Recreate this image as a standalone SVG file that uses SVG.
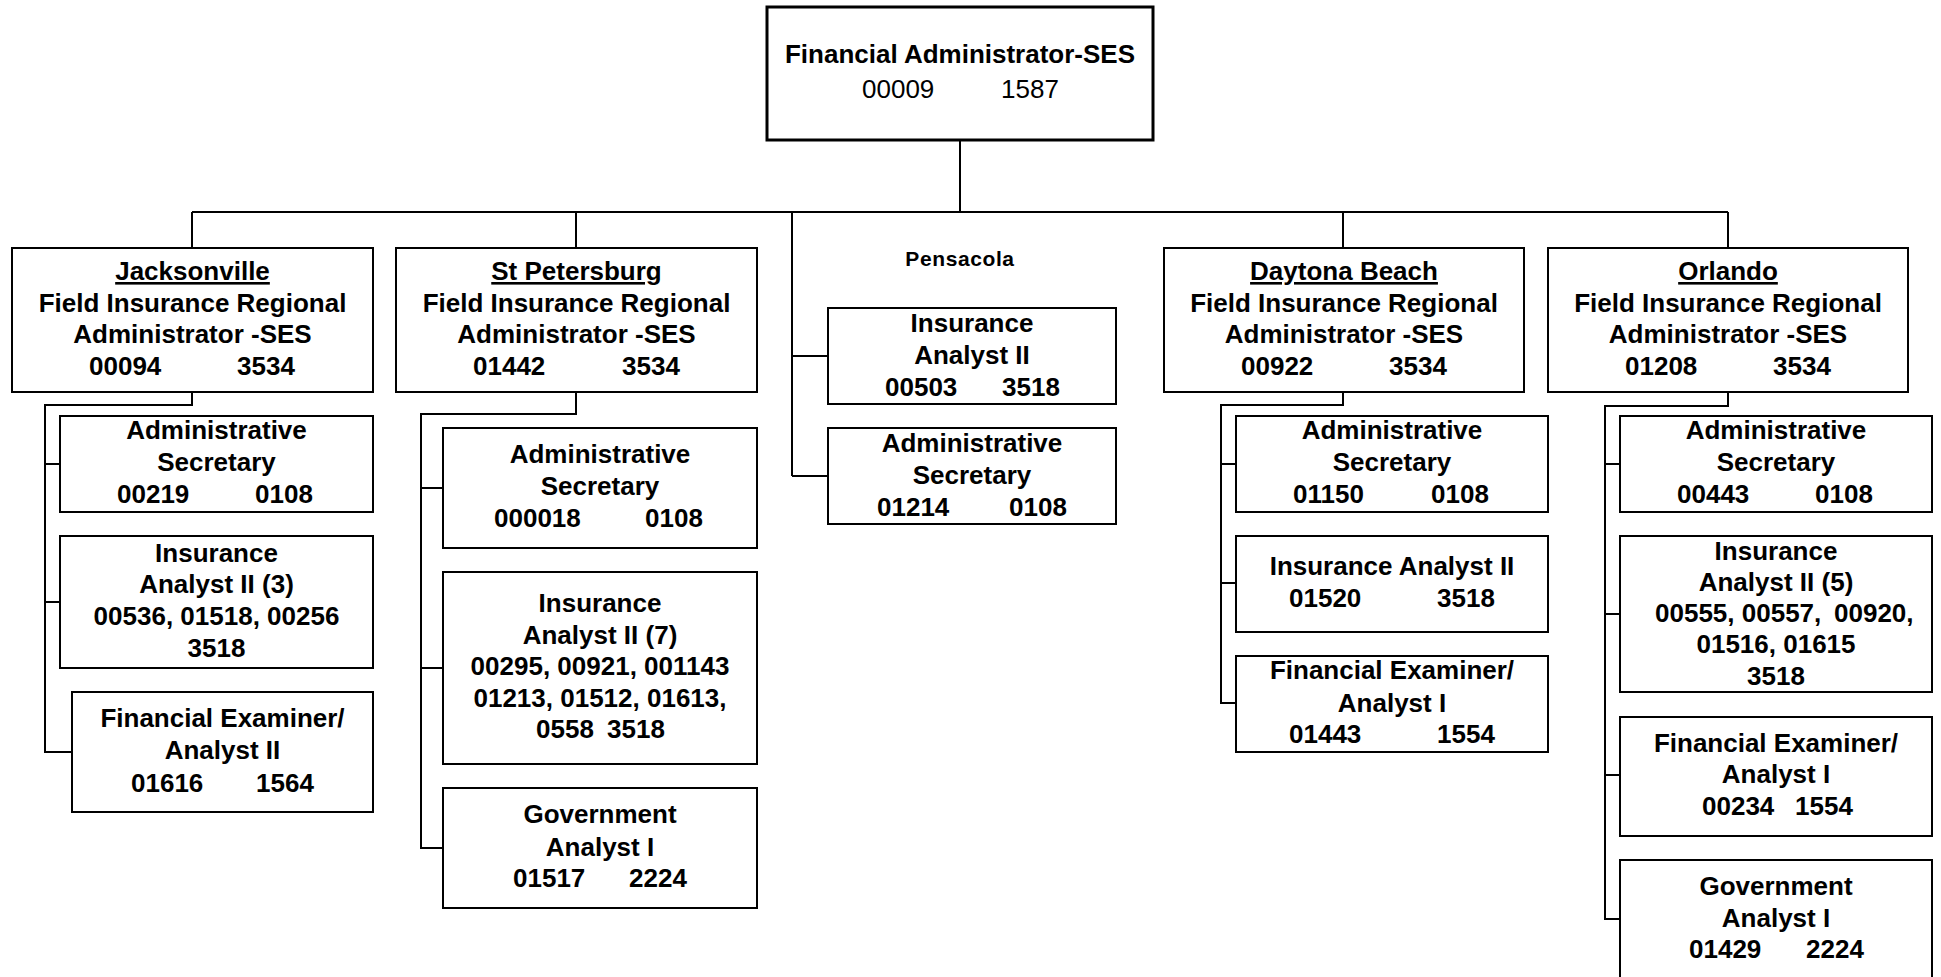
<svg xmlns="http://www.w3.org/2000/svg" width="1941" height="977" viewBox="0 0 1941 977">
  <style>
    .box { fill: #ffffff; stroke: #000000; stroke-width: 2; }
    .top { stroke-width: 3; }
    .wire { fill: none; stroke: #000000; stroke-width: 2; }
    text { font-family: "Liberation Sans", Arial, sans-serif; font-size: 26px; font-weight: bold; fill: #000000; }
    .c { text-anchor: middle; }
    .reg { font-weight: normal; }
    .u { text-decoration: underline; }
    .small { font-size: 21px; letter-spacing: 0.6px; }
  </style>
  <rect width="1941" height="977" fill="#ffffff"/>

  <!-- reporting lines -->
  <g id="connectors">
    <path class="wire" d="M960,140 V212 M192,212 H1728 M192,212 V248 M576,212 V248 M792,212 V476 M1343,212 V248 M1728,212 V248"/>
    <path class="wire" d="M192,392 V405 H45 V752 H72 M45,464 H60 M45,602 H60"/>
    <path class="wire" d="M576,392 V414 H421 V848 H443 M421,488 H443 M421,668 H443"/>
    <path class="wire" d="M792,356 H828 M792,476 H828"/>
    <path class="wire" d="M1343,392 V405 H1221 V703 H1236 M1221,464 H1236 M1221,583 H1236"/>
    <path class="wire" d="M1728,392 V406 H1605 V919 H1620 M1605,464 H1620 M1605,614 H1620 M1605,775 H1620"/>
  </g>

  <g id="financial-administrator">
    <rect class="box top" x="767" y="7" width="386" height="133"/>
    <text class="c" x="960" y="63">Financial Administrator-SES</text>
    <text class="reg" y="98"><tspan x="862">00009</tspan> <tspan x="1001">1587</tspan></text>
  </g>

  <!-- Jacksonville -->
  <g id="jacksonville">
    <rect class="box" x="12" y="248" width="361" height="144"/>
    <text class="c u" x="192.5" y="280">Jacksonville</text>
    <text class="c" x="192.5" y="312">Field Insurance Regional</text>
    <text class="c" x="192.5" y="343">Administrator -SES</text>
    <text y="375"><tspan x="89">00094</tspan> <tspan x="237">3534</tspan></text>
  </g>
  <g id="jacksonville-admin-secretary">
    <rect class="box" x="60" y="416" width="313" height="96"/>
    <text class="c" x="216.5" y="439">Administrative</text>
    <text class="c" x="216.5" y="471">Secretary</text>
    <text y="503"><tspan x="117">00219</tspan> <tspan x="255">0108</tspan></text>
  </g>
  <g id="jacksonville-insurance-analyst">
    <rect class="box" x="60" y="536" width="313" height="132"/>
    <text class="c" x="216.5" y="562">Insurance</text>
    <text class="c" x="216.5" y="593">Analyst II (3)</text>
    <text class="c" x="216.5" y="625">00536, 01518, 00256</text>
    <text class="c" x="216.5" y="657">3518</text>
  </g>
  <g id="jacksonville-financial-examiner">
    <rect class="box" x="72" y="692" width="301" height="120"/>
    <text class="c" x="222.5" y="727">Financial Examiner/</text>
    <text class="c" x="222.5" y="759">Analyst II</text>
    <text y="792"><tspan x="131">01616</tspan> <tspan x="256">1564</tspan></text>
  </g>

  <!-- St Petersburg -->
  <g id="st-petersburg">
    <rect class="box" x="396" y="248" width="361" height="144"/>
    <text class="c u" x="576.5" y="280">St Petersburg</text>
    <text class="c" x="576.5" y="312">Field Insurance Regional</text>
    <text class="c" x="576.5" y="343">Administrator -SES</text>
    <text y="375"><tspan x="473">01442</tspan> <tspan x="622">3534</tspan></text>
  </g>
  <g id="st-petersburg-admin-secretary">
    <rect class="box" x="443" y="428" width="314" height="120"/>
    <text class="c" x="600" y="463">Administrative</text>
    <text class="c" x="600" y="495">Secretary</text>
    <text y="527"><tspan x="494">000018</tspan> <tspan x="645">0108</tspan></text>
  </g>
  <g id="st-petersburg-insurance-analyst">
    <rect class="box" x="443" y="572" width="314" height="192"/>
    <text class="c" x="600" y="612">Insurance</text>
    <text class="c" x="600" y="644">Analyst II (7)</text>
    <text class="c" x="600" y="675">00295, 00921, 001143</text>
    <text class="c" x="600" y="707">01213, 01512, 01613,</text>
    <text y="738"><tspan x="536">0558</tspan> <tspan x="607">3518</tspan></text>
  </g>
  <g id="st-petersburg-government-analyst">
    <rect class="box" x="443" y="788" width="314" height="120"/>
    <text class="c" x="600" y="823">Government</text>
    <text class="c" x="600" y="856">Analyst I</text>
    <text y="887"><tspan x="513">01517</tspan> <tspan x="629">2224</tspan></text>
  </g>

  <!-- Pensacola -->
  <g id="pensacola">
    <text class="c small" x="960" y="266">Pensacola</text>
  </g>
  <g id="pensacola-insurance-analyst">
    <rect class="box" x="828" y="308" width="288" height="96"/>
    <text class="c" x="972" y="332">Insurance</text>
    <text class="c" x="972" y="364">Analyst II</text>
    <text y="396"><tspan x="885">00503</tspan> <tspan x="1002">3518</tspan></text>
  </g>
  <g id="pensacola-admin-secretary">
    <rect class="box" x="828" y="428" width="288" height="96"/>
    <text class="c" x="972" y="452">Administrative</text>
    <text class="c" x="972" y="484">Secretary</text>
    <text y="516"><tspan x="877">01214</tspan> <tspan x="1009">0108</tspan></text>
  </g>

  <!-- Daytona Beach -->
  <g id="daytona-beach">
    <rect class="box" x="1164" y="248" width="360" height="144"/>
    <text class="c u" x="1344" y="280">Daytona Beach</text>
    <text class="c" x="1344" y="312">Field Insurance Regional</text>
    <text class="c" x="1344" y="343">Administrator -SES</text>
    <text y="375"><tspan x="1241">00922</tspan> <tspan x="1389">3534</tspan></text>
  </g>
  <g id="daytona-admin-secretary">
    <rect class="box" x="1236" y="416" width="312" height="96"/>
    <text class="c" x="1392" y="439">Administrative</text>
    <text class="c" x="1392" y="471">Secretary</text>
    <text y="503"><tspan x="1293">01150</tspan> <tspan x="1431">0108</tspan></text>
  </g>
  <g id="daytona-insurance-analyst">
    <rect class="box" x="1236" y="536" width="312" height="96"/>
    <text class="c" x="1392" y="575">Insurance Analyst II</text>
    <text y="607"><tspan x="1289">01520</tspan> <tspan x="1437">3518</tspan></text>
  </g>
  <g id="daytona-financial-examiner">
    <rect class="box" x="1236" y="656" width="312" height="96"/>
    <text class="c" x="1392" y="679">Financial Examiner/</text>
    <text class="c" x="1392" y="712">Analyst I</text>
    <text y="743"><tspan x="1289">01443</tspan> <tspan x="1437">1554</tspan></text>
  </g>

  <!-- Orlando -->
  <g id="orlando">
    <rect class="box" x="1548" y="248" width="360" height="144"/>
    <text class="c u" x="1728" y="280">Orlando</text>
    <text class="c" x="1728" y="312">Field Insurance Regional</text>
    <text class="c" x="1728" y="343">Administrator -SES</text>
    <text y="375"><tspan x="1625">01208</tspan> <tspan x="1773">3534</tspan></text>
  </g>
  <g id="orlando-admin-secretary">
    <rect class="box" x="1620" y="416" width="312" height="96"/>
    <text class="c" x="1776" y="439">Administrative</text>
    <text class="c" x="1776" y="471">Secretary</text>
    <text y="503"><tspan x="1677">00443</tspan> <tspan x="1815">0108</tspan></text>
  </g>
  <g id="orlando-insurance-analyst">
    <rect class="box" x="1620" y="536" width="312" height="156"/>
    <text class="c" x="1776" y="560">Insurance</text>
    <text class="c" x="1776" y="591">Analyst II (5)</text>
    <text y="622"><tspan x="1655">00555, 00557,</tspan> <tspan x="1834">00920,</tspan></text>
    <text class="c" x="1776" y="653">01516, 01615</text>
    <text class="c" x="1776" y="685">3518</text>
  </g>
  <g id="orlando-financial-examiner">
    <rect class="box" x="1620" y="717" width="312" height="119"/>
    <text class="c" x="1776" y="752">Financial Examiner/</text>
    <text class="c" x="1776" y="783">Analyst I</text>
    <text y="815"><tspan x="1702">00234</tspan> <tspan x="1795">1554</tspan></text>
  </g>
  <g id="orlando-government-analyst">
    <rect class="box" x="1620" y="860" width="312" height="130"/>
    <text class="c" x="1776" y="895">Government</text>
    <text class="c" x="1776" y="927">Analyst I</text>
    <text y="958"><tspan x="1689">01429</tspan> <tspan x="1806">2224</tspan></text>
  </g>
</svg>
